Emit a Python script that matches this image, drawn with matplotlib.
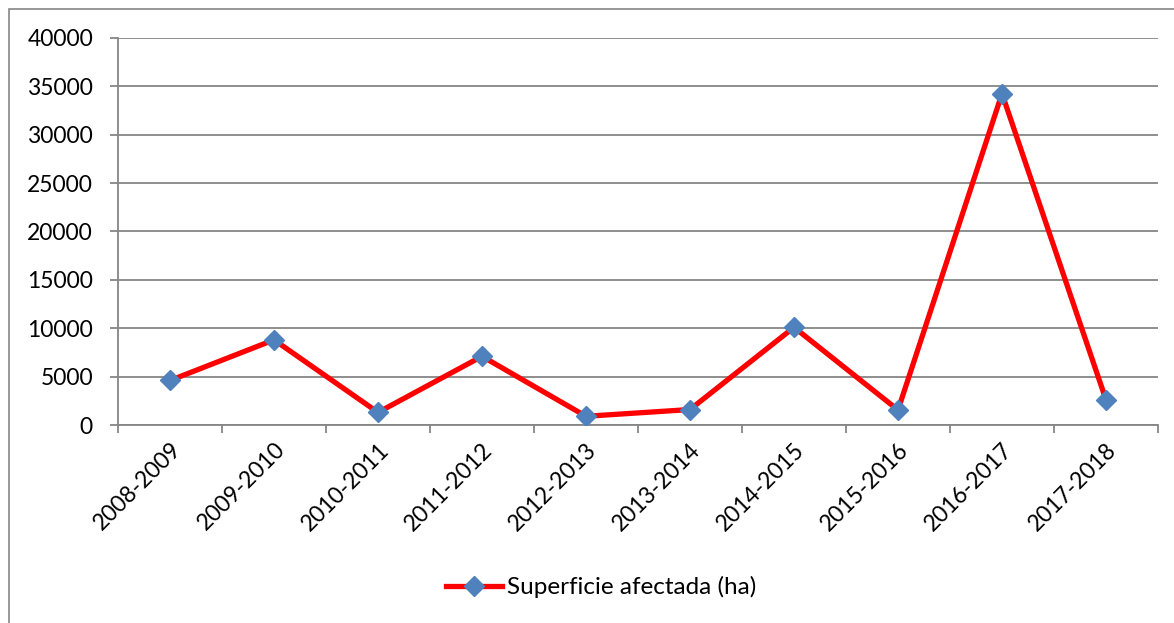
import matplotlib.pyplot as plt
from matplotlib.patches import Rectangle

plt.rcParams['font.family'] = ['Lato', 'DejaVu Sans']

campanas = ['2008-2009', '2009-2010', '2010-2011', '2011-2012', '2012-2013',
            '2013-2014', '2014-2015', '2015-2016', '2016-2017', '2017-2018']
superficie = [4600, 8800, 1300, 7100, 900, 1600, 10100, 1550, 34250, 2600]
yticks = [0, 5000, 10000, 15000, 20000, 25000, 30000, 35000, 40000]

fig = plt.figure(figsize=(11.74, 6.23), dpi=100)
ax = fig.add_axes([118/1174, 1-425/623, (1158-118)/1174, (425-38)/623])

gris = '#868686'
x = list(range(len(campanas)))
ax.plot(x, superficie, color='#FF0000', lw=3.8, marker='D', ms=10,
        mfc='#4F81BD', mec='#4F81BD', label='Superficie afectada (ha)', zorder=3)

ax.set_xlim(-0.5, len(campanas) - 0.5)
ax.set_ylim(0, 40000)
ax.set_yticks(yticks)
ax.set_yticklabels([str(v) for v in yticks], fontsize=16.5)
ax.yaxis.grid(True, color=gris, lw=1.3)
ax.set_axisbelow(True)

# ticks de categoría en los bordes, etiquetas en el centro
ax.set_xticks([i - 0.5 for i in range(len(campanas) + 1)])
ax.set_xticklabels([])
ax.set_xticks(x, minor=True)
ax.set_xticklabels(campanas, minor=True, rotation=45, ha='right',
                   rotation_mode='anchor', fontsize=16.5)
ax.tick_params(axis='x', which='minor', length=0, pad=10)
ax.tick_params(axis='x', which='major', length=6, width=1.3, color=gris, direction='out')
ax.tick_params(axis='y', length=6, width=1.3, color=gris, pad=12)

for s in ['top', 'right']:
    ax.spines[s].set_visible(False)
for s in ['left', 'bottom']:
    ax.spines[s].set_color(gris)
    ax.spines[s].set_linewidth(1.3)

# marco del gráfico
fig.patches.append(Rectangle((9/1174, -0.1), 1.2, 1.1 - 9/623, transform=fig.transFigure,
                             fill=False, ec=gris, lw=1.2))

fig.legend(loc='center', bbox_to_anchor=(0.512, 1-587/623), frameon=False,
           fontsize=17.5, handlelength=2.3, handletextpad=0.2)

fig.savefig('out.png', dpi=100)
